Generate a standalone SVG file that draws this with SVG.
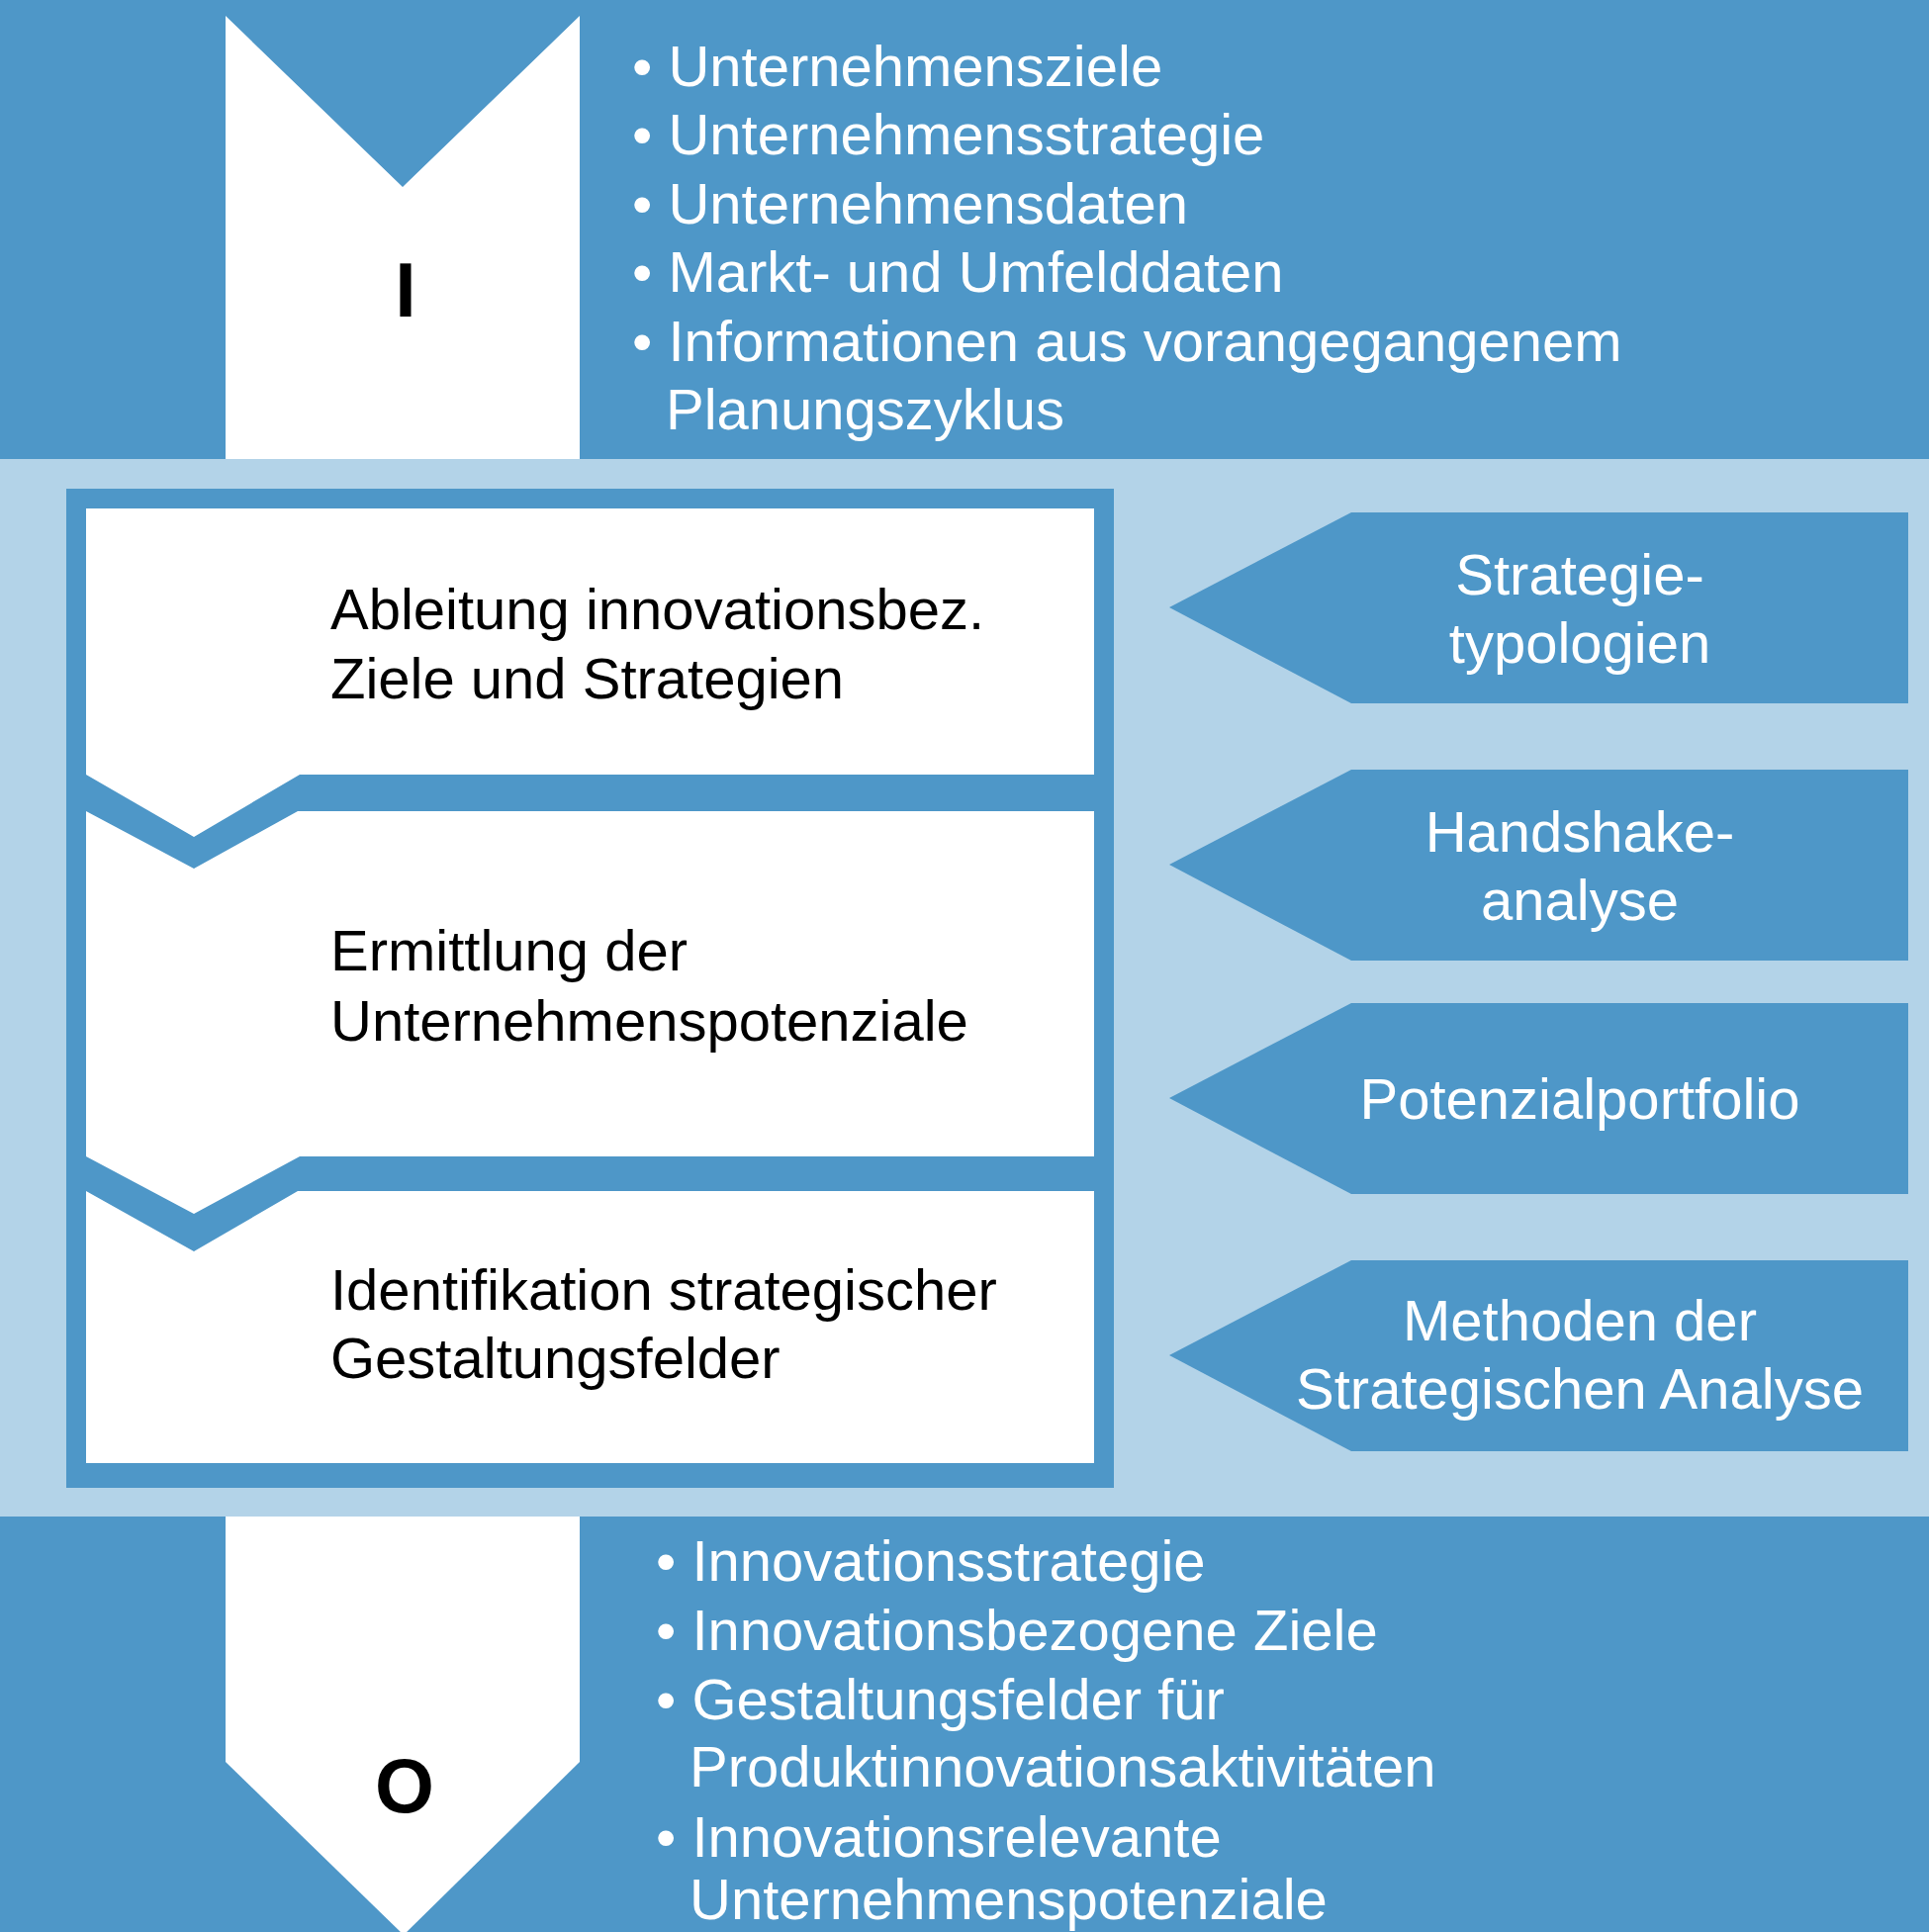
<svg xmlns="http://www.w3.org/2000/svg" width="1950" height="1953" viewBox="0 0 1950 1953">
<style>
.dark{fill:#4e97c8}
.light{fill:#b3d3e8}
.white{fill:#ffffff}
.t{font-family:"Liberation Sans",Arial,Helvetica,sans-serif;font-size:58px}
.tw{fill:#ffffff}
.tb{fill:#000000}
.big{font-family:"Liberation Sans",Arial,Helvetica,sans-serif;font-size:77px;font-weight:bold;fill:#000000;text-anchor:middle}
.mid{text-anchor:middle}
</style>
<g id="background">
<rect class="dark" x="0" y="0" width="1950" height="464"/>
<rect class="light" x="0" y="464" width="1950" height="1069"/>
<rect class="dark" x="0" y="1533" width="1950" height="420"/>
</g>
<g id="input">
<polygon class="white" points="228,16 407,189 586,16 586,464 228,464"/>
<text class="big" x="410" y="320">I</text>
<g class="t tw">
<text x="639" y="87">• Unternehmensziele</text>
<text x="639" y="156">• Unternehmensstrategie</text>
<text x="639" y="226">• Unternehmensdaten</text>
<text x="639" y="295">• Markt- und Umfelddaten</text>
<text x="639" y="365">• Informationen aus vorangegangenem</text>
<text x="673" y="434">Planungszyklus</text>
</g>
</g>
<g id="process">
<rect class="dark" x="67" y="494" width="1059" height="1010"/>
<g id="step1">
<polygon class="white" points="87,514 1106,514 1106,783 303,783 196,846 87,783"/>
<text class="t tb" x="334" y="636">Ableitung innovationsbez.</text>
<text class="t tb" x="334" y="706">Ziele und Strategien</text>
</g>
<g id="step2">
<polygon class="white" points="87,820 196,878 301,820 1106,820 1106,1169 303,1169 196,1227 87,1169"/>
<text class="t tb" x="334" y="981">Ermittlung der</text>
<text class="t tb" x="334" y="1052">Unternehmenspotenziale</text>
</g>
<g id="step3">
<polygon class="white" points="87,1204 196,1265 301,1204 1106,1204 1106,1479 87,1479"/>
<text class="t tb" x="334" y="1324">Identifikation strategischer</text>
<text class="t tb" x="334" y="1393">Gestaltungsfelder</text>
</g>
</g>
<g id="methods">
<g id="m1">
<polygon class="dark" points="1182,614 1366,518 1929,518 1929,711 1366,711"/>
<text class="t tw mid" x="1597" y="601">Strategie-</text>
<text class="t tw mid" x="1597" y="670">typologien</text>
</g>
<g id="m2">
<polygon class="dark" points="1182,874 1366,778 1929,778 1929,971 1366,971"/>
<text class="t tw mid" x="1597" y="861">Handshake-</text>
<text class="t tw mid" x="1597" y="930">analyse</text>
</g>
<g id="m3">
<polygon class="dark" points="1182,1110 1366,1014 1929,1014 1929,1207 1366,1207"/>
<text class="t tw mid" x="1597" y="1131">Potenzialportfolio</text>
</g>
<g id="m4">
<polygon class="dark" points="1182,1370 1366,1274 1929,1274 1929,1467 1366,1467"/>
<text class="t tw mid" x="1597" y="1355">Methoden der</text>
<text class="t tw mid" x="1597" y="1424">Strategischen Analyse</text>
</g>
</g>
<g id="output">
<polygon class="white" points="228,1533 586,1533 586,1781 408,1956 228,1781"/>
<text class="big" x="409" y="1832">O</text>
<g class="t tw">
<text x="663" y="1598">• Innovationsstrategie</text>
<text x="663" y="1668">• Innovationsbezogene Ziele</text>
<text x="663" y="1738">• Gestaltungsfelder für</text>
<text x="697" y="1806">Produktinnovationsaktivitäten</text>
<text x="663" y="1877">• Innovationsrelevante</text>
<text x="697" y="1940">Unternehmenspotenziale</text>
</g>
</g>
<g id="connectors"></g>
</svg>
